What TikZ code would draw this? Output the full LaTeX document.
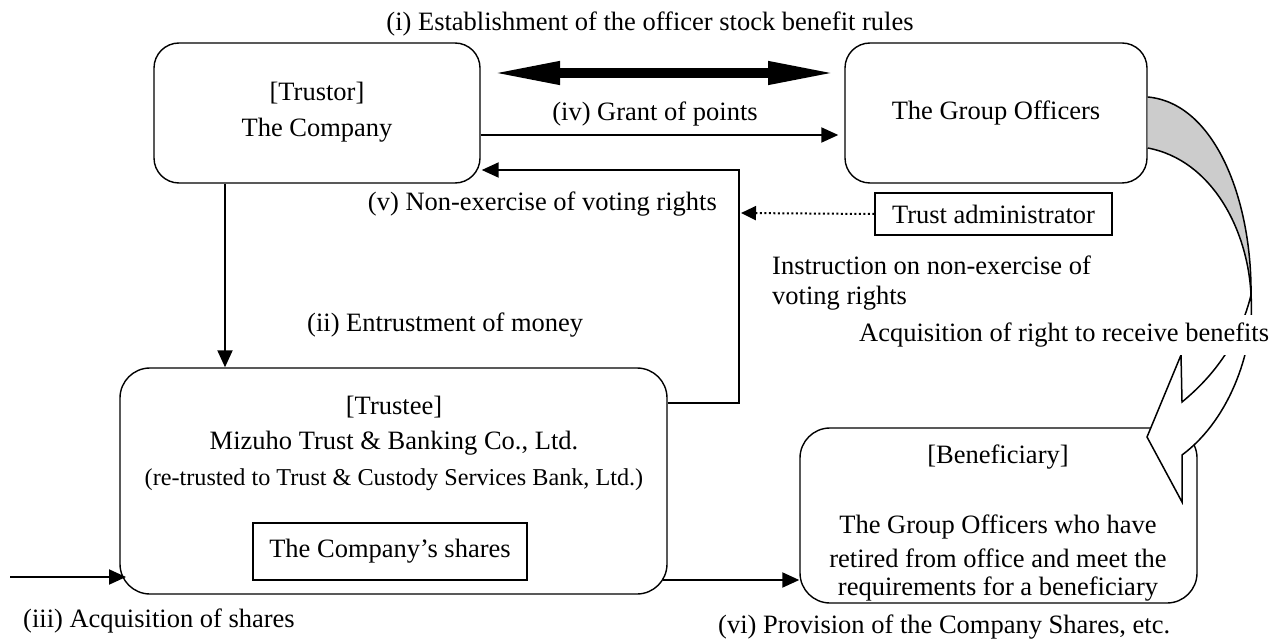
\documentclass[tikz,border=0pt]{standalone}
\usepackage{fontspec}
\setmainfont{Liberation Serif}
\usetikzlibrary{arrows.meta}
\begin{document}
\begin{tikzpicture}[x=1pt,y=-1pt,
  font=\fontsize{26.5pt}{31pt}\selectfont,
  party/.style={draw, line width=1.4pt, inner sep=0pt},
  plainbox/.style={draw, line width=1.4pt, inner sep=0pt},
  lbl/.style={inner sep=0pt},
  conn/.style={line width=2pt, -{Triangle[length=17pt,width=15pt]}},
  dotconn/.style={line width=2pt, dash pattern=on 2pt off 2.5pt,
                  -{Triangle[length=15pt,width=14pt]}},
  dblarrow/.style={line width=10pt,
                   {Triangle[length=70pt,width=21pt]}-{Triangle[length=70pt,width=21pt]}},
  ribbon/.style={draw, line width=1.5pt, line join=miter},
]
\useasboundingbox (0,0) rectangle (1273,639);

% ---- parties ----
\node[party, rounded corners=25pt, minimum width=326pt, minimum height=140pt] (trustor) at (317,113) {};
\node[lbl] (trustorrole) at (317,93) {[Trustor]};
\node[lbl] (trustorname) at (317,130) {The Company};

\node[party, rounded corners=25pt, minimum width=302pt, minimum height=140pt] (group) at (996,113) {};
\node[lbl] (groupname) at (996,113) {The Group Officers};

\node[plainbox, minimum width=237pt, minimum height=42pt] (admin) at (993.5,214) {};
\node[lbl] (adminname) at (993.5,214) {Trust administrator};

\node[party, rounded corners=30pt, minimum width=547pt, minimum height=226pt] (trustee) at (393.5,481) {};
\node[lbl] (trusteerole) at (394,407) {[Trustee]};
\node[lbl] (trusteename) at (394,443) {Mizuho Trust \& Banking Co., Ltd.};
\node[lbl, font=\fontsize{24.2pt}{28pt}\selectfont] (trusteesub) at (394,480)
  {(re-trusted to Trust \& Custody Services Bank, Ltd.)};
\node[plainbox, minimum width=274pt, minimum height=57pt] (shares) at (390,551.5) {};
\node[lbl] (sharestext) at (390,551) {The Company’s shares};

\node[party, rounded corners=30pt, minimum width=397pt, minimum height=175pt] (benef) at (998.5,515.5) {};
\node[lbl] (benefrole) at (998,457) {[Beneficiary]};
\node[lbl] (beneflineA) at (998,527) {The Group Officers who have};
\node[lbl] (beneflineB) at (998,558) {retired from office and meet the};
\node[lbl] (beneflineC) at (998,589) {requirements for a beneficiary};

% ---- connectors ----
\coordinate (rulesL) at (490,73);
\coordinate (rulesR) at (838,73);
\draw[dblarrow] (rulesL) -- (rulesR);

\draw[conn] (trustor.east |- 0,135) -- ([xshift=-6pt]group.west |- 0,135);

\coordinate (voteCorner) at (739,403);
\draw[conn] (trustee.east |- voteCorner) -- (voteCorner) -- (739,170) -- ([xshift=1pt]trustor.east |- 0,170);

\draw[dotconn] (admin.west) -- (741,213);

\draw[conn] (trustor.south -| 225,0) -- (trustee.north -| 225,0);

\coordinate (buyStart) at (10,577);
\draw[conn] (buyStart) -- (126,577);

\draw[conn] ([xshift=-5pt]trustee.east |- 0,580) -- (benef.west |- 0,580);

% ---- curved arrow: back face ----
\coordinate (cross) at (1251,295);
\fill[black!20] (group.east |- 0,97) .. controls (1215,103) and (1252,200) .. (cross)
   .. controls (1248,230) and (1212,160) .. (group.east |- 0,148) -- cycle;
\draw[line width=1.5pt] (group.east |- 0,97) .. controls (1215,103) and (1252,200) .. (cross);
\draw[line width=1.5pt] (group.east |- 0,148) .. controls (1212,160) and (1248,230) .. (cross);

% ---- curved arrow: front face with head ----
\draw[ribbon, fill=white] (cross)
   .. controls (1255,345) and (1232,418) .. (1182,455)
   -- (1182,502) -- (1147,437) -- (1181,355) -- (1182,402)
   .. controls (1215,375) and (1240,340) .. (cross) -- cycle;

% ---- labels ----
\node[lbl] (lblrules) at (650,24) {(i) Establishment of the officer stock benefit rules};
\node[lbl] (lblpoints) at (655,114) {(iv) Grant of points};
\node[lbl, anchor=east] (lblvote) at (717,204) {(v) Non-exercise of voting rights};
\node[lbl, anchor=west] (lblinstrA) at (772,265) {Instruction on non-exercise of};
\node[lbl, anchor=west] (lblinstrB) at (772,298) {voting rights};
\node[lbl, anchor=west] (lblmoney) at (307,325) {(ii) Entrustment of money};
\node[lbl, anchor=base west, fill=white, inner xsep=1pt, inner ysep=7pt,
      text height=19pt, text depth=7pt] (lblright) at (858,341)
  {Acquisition of right to receive benefits};
\node[lbl, anchor=west] (lblbuy) at (23,621) {(iii) Acquisition of shares};
\node[lbl, anchor=west] (lblprov) at (718,627) {(vi) Provision of the Company Shares, etc.};
\end{tikzpicture}
\end{document}
